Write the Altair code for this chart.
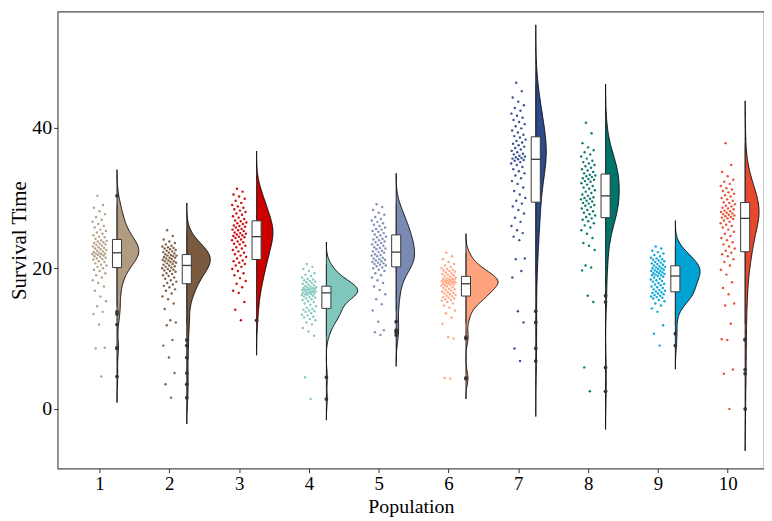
import altair as alt
import pandas as pd

populations = [1, 2, 3, 4, 5, 6, 7, 8, 9, 10]
colors = ["#b19c82", "#7b5b3f", "#cc0000", "#7fc6bc", "#7b8ab3",
          "#ffa37e", "#2d4a8a", "#00736a", "#00a3d4", "#e6492d"]

pop_1 = [4.6, 8.6, 8.7, 12.0, 13.5, 13.8, 14.6, 15.3, 16.0, 16.8, 17.4, 17.9, 18.3, 18.7, 19.0, 19.3, 19.6, 19.8, 20.0,
         20.2, 20.4, 20.5, 20.7, 20.9, 21.0, 21.2, 21.3, 21.4, 21.5, 21.6, 21.7, 21.8, 21.9, 22.0, 22.0, 22.1, 22.1,
         22.2, 22.3, 22.4, 22.5, 22.6, 22.7, 22.8, 22.9, 23.0, 23.1, 23.2, 23.3, 23.4, 23.5, 23.6, 23.7, 23.8, 23.9, 24.0,
         24.2, 24.4, 24.5, 24.7, 24.9, 25.1, 25.3, 25.5, 25.8, 26.0, 26.3, 26.6, 26.9, 27.3, 27.7, 28.1, 28.6, 29.0, 30.3]
pop_2 = [1.6, 3.5, 5.1, 7.3, 9.0, 9.8, 11.9, 12.3, 12.6, 14.2, 15.0, 15.6, 16.0, 16.4, 16.8, 17.0, 17.3, 17.5, 17.7,
         17.9, 18.1, 18.3, 18.5, 18.7, 18.9, 19.0, 19.2, 19.3, 19.5, 19.6, 19.7, 19.8, 19.9, 20.0, 20.1, 20.2, 20.3,
         20.4, 20.5, 20.6, 20.7, 20.8, 20.9, 21.0, 21.0, 21.1, 21.2, 21.3, 21.4, 21.5, 21.5, 21.6, 21.7, 21.8, 21.8, 21.9,
         22.0, 22.1, 22.2, 22.3, 22.4, 22.5, 22.6, 22.7, 22.8, 22.9, 23.0, 23.1, 23.2, 23.4, 23.6, 23.8, 24.1, 24.6, 25.4]
pop_3 = [12.6, 14.1, 15.2, 16.5, 16.8, 17.3, 17.8, 18.2, 18.6, 19.0, 19.3, 19.6, 19.9, 20.2, 20.4, 20.6, 20.8, 21.0, 21.1,
         21.4, 21.6, 21.8, 22.0, 22.2, 22.4, 22.6, 22.8, 23.0, 23.2, 23.4, 23.5, 23.7, 23.8, 24.0, 24.1, 24.3, 24.4,
         24.5, 24.6, 24.7, 24.8, 24.9, 25.0, 25.1, 25.3, 25.4, 25.5, 25.6, 25.8, 25.9, 26.0, 26.1, 26.3, 26.4, 26.5, 26.7,
         26.8, 27.0, 27.2, 27.4, 27.6, 27.8, 28.0, 28.2, 28.4, 28.6, 28.8, 29.0, 29.3, 29.6, 29.9, 30.2, 30.5, 30.9, 31.3]
pop_4 = [1.4, 4.5, 10.4, 11.0, 11.5, 12.0, 12.3, 12.6, 12.8, 13.0, 13.1, 13.3, 13.4, 13.6, 13.8, 13.9, 14.0, 14.1, 14.2,
         14.4, 14.6, 14.8, 15.0, 15.2, 15.3, 15.5, 15.6, 15.7, 15.8, 15.9, 16.0, 16.1, 16.2, 16.2, 16.3, 16.3, 16.4,
         16.5, 16.5, 16.6, 16.6, 16.7, 16.7, 16.8, 16.8, 16.9, 16.9, 17.0, 17.0, 17.1, 17.1, 17.2, 17.2, 17.3, 17.3, 17.4,
         17.5, 17.6, 17.7, 17.8, 17.9, 18.0, 18.1, 18.2, 18.3, 18.4, 18.5, 18.7, 18.9, 19.1, 19.3, 19.6, 19.9, 20.2, 20.6]
pop_5 = [10.5, 10.9, 11.2, 12.4, 14.0, 14.9, 15.6, 16.3, 16.9, 17.4, 17.9, 18.3, 18.7, 19.0, 19.3, 19.6, 19.8, 20.0, 20.1,
         20.3, 20.4, 20.5, 20.6, 20.7, 20.8, 20.9, 21.0, 21.1, 21.2, 21.3, 21.4, 21.5, 21.7, 21.8, 21.9, 22.0, 22.2,
         22.3, 22.4, 22.5, 22.7, 22.8, 22.9, 23.0, 23.2, 23.3, 23.4, 23.6, 23.7, 23.8, 24.0, 24.1, 24.2, 24.4, 24.5, 24.7,
         24.8, 25.0, 25.2, 25.3, 25.5, 25.6, 25.8, 26.0, 26.2, 26.4, 26.6, 26.8, 27.0, 27.3, 27.6, 27.9, 28.3, 28.7, 29.1]
pop_6 = [4.3, 4.4, 10.0, 10.2, 12.1, 13.0, 13.6, 14.0, 14.4, 14.7, 15.0, 15.2, 15.4, 15.5, 15.6, 15.7, 15.8, 15.9, 16.0,
         16.1, 16.2, 16.3, 16.4, 16.5, 16.6, 16.7, 16.8, 16.9, 17.0, 17.1, 17.2, 17.3, 17.4, 17.5, 17.6, 17.6, 17.7,
         17.8, 17.8, 17.9, 17.9, 18.0, 18.0, 18.1, 18.1, 18.2, 18.2, 18.3, 18.3, 18.4, 18.4, 18.5, 18.5, 18.6, 18.7, 18.8,
         18.9, 19.0, 19.1, 19.2, 19.3, 19.4, 19.5, 19.6, 19.7, 19.8, 19.9, 20.0, 20.2, 20.4, 20.6, 20.9, 21.3, 21.7, 22.2]
pop_7 = [6.8, 8.6, 12.3, 13.9, 18.7, 19.6, 21.3, 21.4, 24.0, 24.5, 25.0, 25.4, 26.0, 26.6, 27.2, 27.8, 28.3, 28.8, 29.2,
         29.6, 30.0, 30.5, 31.0, 31.5, 32.0, 32.4, 32.8, 33.2, 33.5, 33.8, 34.1, 34.4, 34.7, 34.9, 35.1, 35.3, 35.4,
         35.5, 35.6, 35.7, 35.8, 35.9, 36.0, 36.2, 36.3, 36.5, 36.7, 36.9, 37.1, 37.3, 37.5, 37.7, 37.9, 38.1, 38.3, 38.6,
         38.8, 39.0, 39.3, 39.6, 39.9, 40.2, 40.5, 40.8, 41.1, 41.4, 41.7, 42.0, 42.4, 42.8, 43.2, 43.7, 44.3, 45.2, 46.4]
pop_8 = [2.5, 5.9, 15.2, 16.1, 19.7, 20.1, 20.4, 22.6, 23.2, 23.6, 24.3, 24.9, 25.4, 25.8, 26.1, 26.4, 26.7, 26.9, 27.1,
         27.3, 27.5, 27.7, 27.9, 28.1, 28.3, 28.5, 28.7, 28.9, 29.0, 29.2, 29.3, 29.5, 29.6, 29.8, 29.9, 30.0, 30.1,
         30.3, 30.5, 30.7, 30.9, 31.1, 31.3, 31.5, 31.7, 31.9, 32.1, 32.3, 32.4, 32.6, 32.7, 32.8, 33.0, 33.1, 33.2, 33.3,
         33.5, 33.7, 33.9, 34.1, 34.3, 34.5, 34.7, 34.9, 35.1, 35.3, 35.6, 35.9, 36.2, 36.5, 36.8, 37.2, 37.8, 39.2, 40.7]
pop_9 = [9.0, 10.7, 11.9, 13.8, 14.3, 14.7, 15.0, 15.3, 15.5, 15.7, 15.8, 15.9, 16.0, 16.1, 16.2, 16.3, 16.4, 16.5, 16.6,
         16.7, 16.8, 16.9, 17.0, 17.2, 17.3, 17.4, 17.6, 17.7, 17.8, 17.9, 18.1, 18.2, 18.3, 18.4, 18.5, 18.7, 18.8,
         18.9, 19.0, 19.0, 19.1, 19.2, 19.3, 19.3, 19.4, 19.5, 19.6, 19.6, 19.7, 19.8, 19.9, 20.0, 20.0, 20.1, 20.2, 20.3,
         20.4, 20.5, 20.6, 20.7, 20.8, 20.9, 21.0, 21.1, 21.2, 21.3, 21.4, 21.5, 21.7, 21.9, 22.1, 22.3, 22.5, 22.8, 23.1]
pop_10 = [0.0, 5.0, 5.6, 9.8, 9.9, 12.1, 14.7, 15.0, 16.3, 17.2, 18.0, 19.1, 19.8, 20.4, 20.9, 21.3, 21.7, 22.0, 22.2,
          22.5, 22.8, 23.1, 23.4, 23.7, 24.0, 24.3, 24.6, 24.9, 25.2, 25.5, 25.8, 26.0, 26.2, 26.4, 26.6, 26.8, 27.0,
          27.1, 27.2, 27.3, 27.4, 27.5, 27.6, 27.7, 27.8, 27.9, 28.0, 28.1, 28.2, 28.4, 28.5, 28.6, 28.8, 28.9, 29.1, 29.3,
          29.4, 29.6, 29.8, 30.0, 30.2, 30.4, 30.6, 30.8, 31.0, 31.2, 31.4, 31.7, 32.0, 32.3, 32.6, 33.1, 33.7, 34.7, 37.8]

all_values = [pop_1, pop_2, pop_3, pop_4, pop_5, pop_6, pop_7, pop_8, pop_9, pop_10]
rows = []
for p, vals in zip(populations, all_values):
    for v in vals:
        rows.append({"pop": p, "value": v})
df = pd.DataFrame(rows)

FONT = "Liberation Serif"
xs = alt.Scale(domain=[0.4, 10.52], nice=False, zero=False)
ys = alt.Scale(domain=[-8.5, 56.5], nice=False, zero=False)
x_axis = alt.Axis(values=populations, format="d", title="Population", grid=False, domain=False,
                  labelFont=FONT, labelFontSize=19, labelColor="black", tickColor="#333333",
                  tickSize=4, labelPadding=2, titleFont=FONT, titleFontSize=20,
                  titleFontWeight="normal", titleColor="black", titlePadding=3)
y_axis = alt.Axis(values=[0, 20, 40], title="Survival Time", grid=False, domain=False,
                  labelFont=FONT, labelFontSize=20, labelColor="black", tickColor="#333333",
                  tickSize=4, labelPadding=2, titleFont=FONT, titleFontSize=21,
                  titleFontWeight="normal", titleColor="black", titlePadding=2)
color = alt.Color("pop:N", scale=alt.Scale(domain=populations, range=colors), legend=None)

base = alt.Chart(df)

points = base.transform_window(
    rn="row_number()", groupby=["pop"]
).transform_calculate(
    xj="datum.pop + 0.21*(((datum.rn*0.6180339887) % 1) - 0.5)"
).mark_circle(size=6, opacity=0.95).encode(
    x=alt.X("xj:Q", scale=xs, axis=x_axis),
    y=alt.Y("value:Q", scale=ys, axis=y_axis),
    color=color,
)

violin = base.transform_density(
    "value", as_=["value", "density"], groupby=["pop"], extent=[-9, 57], steps=500
).transform_filter(
    "datum.density > 8e-5"
).transform_joinaggregate(
    dmax="max(density)"
).transform_calculate(
    x0="datum.pop + 0.25",
    x1="datum.pop + 0.25 + 0.46*datum.density/datum.dmax",
).mark_area(orient="horizontal", stroke="black", strokeWidth=0.9, clip=True).encode(
    y=alt.Y("value:Q", scale=ys, axis=y_axis),
    x=alt.X("x0:Q", scale=xs, axis=x_axis),
    x2="x1:Q",
    color=color,
    detail="pop:N",
)

stats = base.transform_joinaggregate(
    q1="q1(value)", q3="q3(value)", groupby=["pop"]
).transform_calculate(
    lo="datum.q1 - 1.5*(datum.q3-datum.q1)",
    hi="datum.q3 + 1.5*(datum.q3-datum.q1)",
    xc="datum.pop + 0.25",
)

whiskers = stats.transform_filter(
    "datum.value >= datum.lo && datum.value <= datum.hi"
).transform_aggregate(
    wlo="min(value)", whi="max(value)", groupby=["pop", "xc"]
).mark_rule(color="#333333", strokeWidth=0.8).encode(
    x=alt.X("xc:Q", scale=xs, axis=x_axis),
    y=alt.Y("wlo:Q", scale=ys, axis=y_axis),
    y2="whi:Q",
)

box_stats = base.transform_aggregate(
    q1="q1(value)", q3="q3(value)", med="median(value)", groupby=["pop"]
).transform_calculate(
    xl="datum.pop + 0.25 - 0.065",
    xr="datum.pop + 0.25 + 0.065",
)
box = box_stats.mark_rect(fill="white", stroke="#3a3a3a", strokeWidth=1).encode(
    x=alt.X("xl:Q", scale=xs, axis=x_axis),
    x2="xr:Q",
    y=alt.Y("q1:Q", scale=ys, axis=y_axis),
    y2="q3:Q",
)
median = box_stats.mark_rule(color="#3a3a3a", strokeWidth=1.3).encode(
    x=alt.X("xl:Q", scale=xs, axis=x_axis),
    x2="xr:Q",
    y=alt.Y("med:Q", scale=ys, axis=y_axis),
)

outliers = stats.transform_filter(
    "datum.value < datum.lo || datum.value > datum.hi"
).mark_circle(size=14, color="#333333", opacity=1).encode(
    x=alt.X("xc:Q", scale=xs, axis=x_axis),
    y=alt.Y("value:Q", scale=ys, axis=y_axis),
)

chart = alt.layer(points, violin, whiskers, box, median, outliers).properties(
    width=711, height=460,
    padding={"left": 1, "top": 2, "right": 0, "bottom": 0},
    background="white",
).configure_view(
    stroke="#4d4d4d", strokeWidth=1.2
)

chart.save("out.html", embed_options={"renderer": "svg", "actions": False})
